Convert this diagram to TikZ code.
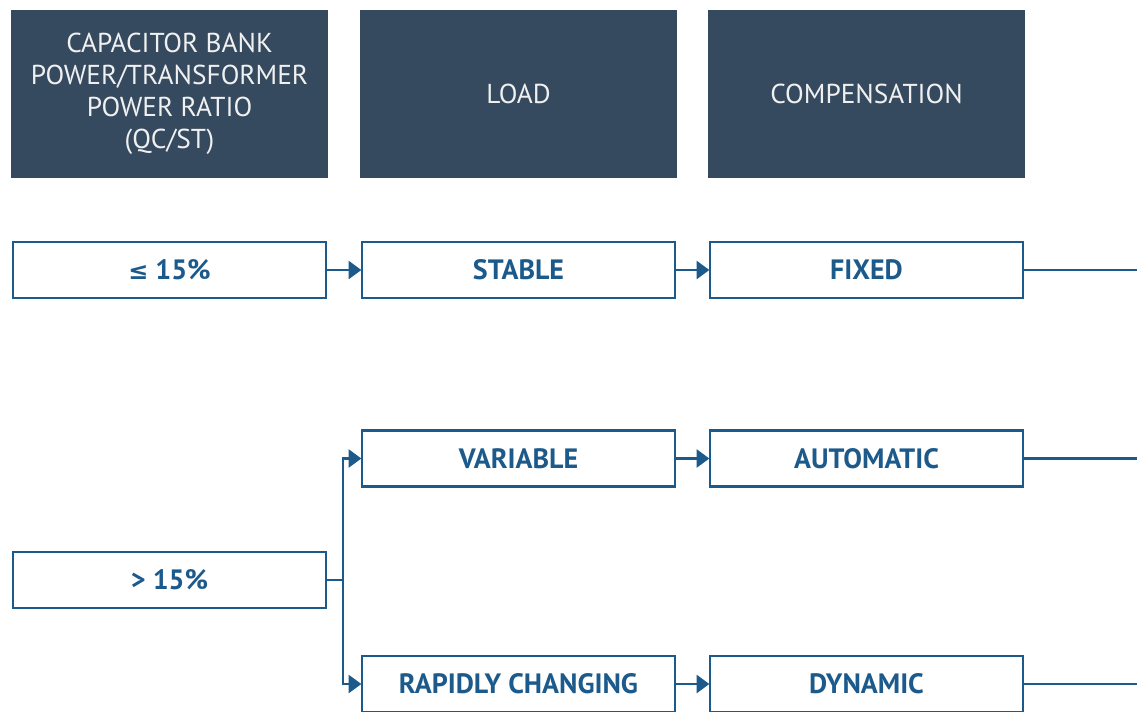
\documentclass[tikz,border=0pt]{standalone}
\usepackage{fontspec}
\setmainfont{PT Sans}
\newfontfamily\symfont{DejaVu Sans}
\usetikzlibrary{arrows.meta}
\definecolor{hdr}{HTML}{364A5F}
\definecolor{blu}{HTML}{1D5A8C}
\def\u{0.75pt}
\tikzset{
  hdrbox/.style={fill=hdr, draw=none, text=white!94!black, minimum width=317*\u, minimum height=168*\u, inner sep=0pt, align=center, font=\fontsize{20.5}{24}\selectfont},
  optbox/.style={draw=blu, line width=2pt, fill=white, text=blu, minimum width=313*\u, minimum height=56*\u, inner sep=0pt, font=\bfseries\fontsize{21}{24}\selectfont},
  conn/.style={draw=blu, line width=1.7pt},
  arr/.style={conn, -{Triangle[length=9.5pt,width=13.5pt]}, shorten >=-0.5pt}
}
\begin{document}
\begin{tikzpicture}[x=\u, y=-\u]
\useasboundingbox (0,0) rectangle (1137,711);
\node[hdrbox] (h1) at (169.5,94) {CAPACITOR BANK\\POWER/TRANSFORMER\\POWER RATIO\\(QC/ST)};
\node[hdrbox] (h2) at (518.5,94) {LOAD};
\node[hdrbox] (h3) at (866.5,94) {COMPENSATION};

\node[optbox] (le) at (169.5,270) {{\symfont\bfseries\fontsize{18}{20}\selectfont ≤} 15\%};
\node[optbox] (stable) at (518.5,270) {STABLE};
\node[optbox] (fixed) at (866.5,270) {FIXED};

\node[optbox] (gt) at (169.5,580) {> 15\%};
\node[optbox] (variable) at (518.5,458.5) {VARIABLE};
\node[optbox] (auto) at (866.5,458.5) {AUTOMATIC};
\node[optbox] (rapid) at (518.5,684) {RAPIDLY CHANGING};
\node[optbox] (dyn) at (866.5,684) {DYNAMIC};

\coordinate (e1) at (1137,270);
\coordinate (e2) at (1137,458.5);
\coordinate (e3) at (1137,684);
\coordinate (br) at (343,580);

\draw[arr] (le.east) -- (stable.west);
\draw[arr] (stable.east) -- (fixed.west);
\draw[arr] (variable.east) -- (auto.west);
\draw[arr] (rapid.east) -- (dyn.west);
\draw[conn] (fixed.east) -- (e1);
\draw[conn] (auto.east) -- (e2);
\draw[conn] (dyn.east) -- (e3);
\draw[conn] (gt.east) -- (br);
\draw[arr] (br) |- (variable.west);
\draw[arr] (br) |- (rapid.west);
\end{tikzpicture}
\end{document}
